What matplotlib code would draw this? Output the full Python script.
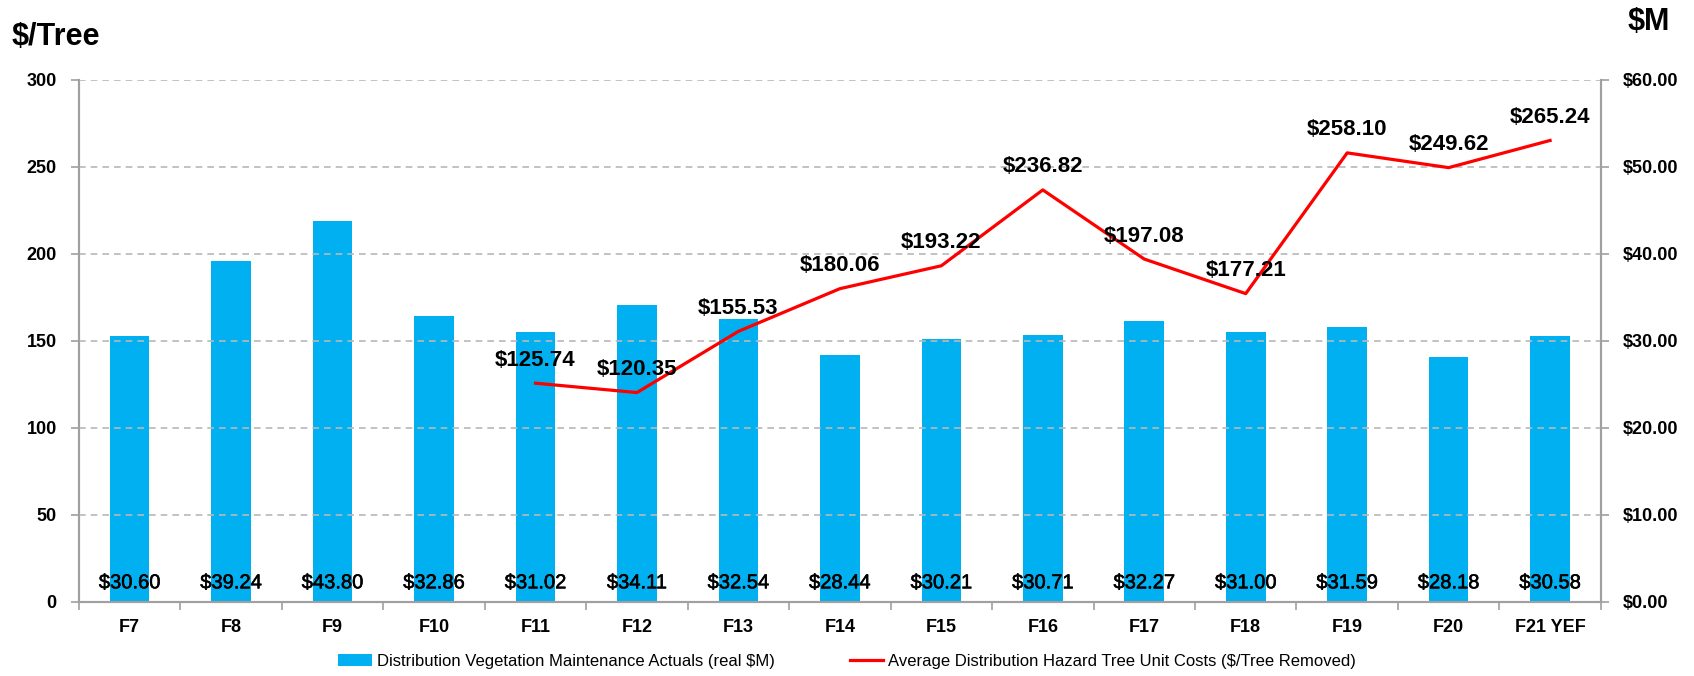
import matplotlib.pyplot as plt
import matplotlib.patheffects as pe
import numpy as np

plt.rcParams['font.family'] = ['Liberation Sans', 'DejaVu Sans']

years = ['F7', 'F8', 'F9', 'F10', 'F11', 'F12', 'F13', 'F14', 'F15', 'F16',
         'F17', 'F18', 'F19', 'F20', 'F21 YEF']
spend = [30.60, 39.24, 43.80, 32.86, 31.02, 34.11, 32.54, 28.44, 30.21, 30.71,
         32.27, 31.00, 31.59, 28.18, 30.58]
unit_years = ['F11', 'F12', 'F13', 'F14', 'F15', 'F16', 'F17', 'F18', 'F19', 'F20', 'F21 YEF']
unit_cost = [125.74, 120.35, 155.53, 180.06, 193.22, 236.82, 197.08, 177.21,
             258.10, 249.62, 265.24]

bar_color = '#00B0F0'
line_color = '#FF0000'
spine_color = '#A0A0A0'

fig = plt.figure(figsize=(16.94, 6.76), dpi=100)
ax = fig.add_axes([0.0466, 0.1095, 0.8984, 0.7722])
ax2 = ax.twinx()

x = np.arange(len(years))
ux = [years.index(y) for y in unit_years]

# bars on the right axis ($M)
bars = ax2.bar(x, spend, width=0.39, color=bar_color, zorder=2,
               label='Distribution Vegetation Maintenance Actuals (real $M)')
for xi, v in zip(x, spend):
    ax2.text(xi, 2.2, f'${v:.2f}', ha='center', va='center', fontsize=14.5, zorder=5,
             path_effects=[pe.withStroke(linewidth=0.4, foreground='black')])

# line on the left axis ($/Tree)
line, = ax.plot(ux, unit_cost, color=line_color, lw=2.3, zorder=4,
                label='Average Distribution Hazard Tree Unit Costs ($/Tree Removed)')
for xi, v in zip(ux, unit_cost):
    ax.annotate(f'${v:.2f}', (xi, v), xytext=(0, 9), textcoords='offset points',
                ha='center', va='bottom', fontsize=16, fontweight='bold', zorder=6)

# line above bars
ax.set_zorder(ax2.get_zorder() + 1)
ax.patch.set_visible(False)

ax.set_xlim(-0.5, len(years) - 0.5)
ax.set_ylim(0, 300)
ax2.set_ylim(0, 60)
ax.set_yticks(np.arange(0, 301, 50))
ax2.set_yticks(np.arange(0, 61, 10))
ax2.set_yticklabels([f'${v:.2f}' for v in np.arange(0, 61, 10)])

ax.set_xticks(x)
ax.set_xticklabels(years)
ax.set_xticks(np.arange(-0.5, len(years), 1), minor=True)
ax.tick_params(axis='x', which='major', length=0, pad=12)
ax.tick_params(axis='x', which='minor', length=6, color=spine_color, width=1.2)
ax.tick_params(axis='y', length=6, color=spine_color, width=1.2, pad=10)
ax2.tick_params(axis='y', length=6, color=spine_color, width=1.2, pad=10)

for a in (ax, ax2):
    for lab in a.get_xticklabels() + a.get_yticklabels():
        lab.set_fontweight('bold')
        lab.set_fontsize(13)
    a.spines['top'].set_visible(False)
    for s in ('left', 'right', 'bottom'):
        a.spines[s].set_color(spine_color)
        a.spines[s].set_linewidth(1.5)

ax.yaxis.grid(True, linestyle=(0, (4, 3)), color='#B8B8B8', lw=1.2)
ax.set_axisbelow(True)
ax2.yaxis.grid(False)

fig.text(0.007, 0.945, '$/Tree', fontsize=22, fontweight='bold', va='center')
fig.text(0.961, 0.968, '$M', fontsize=22, fontweight='bold', va='center')

fig.legend([bars, line], [bars.get_label(), line.get_label()],
           loc='lower center', bbox_to_anchor=(0.5, -0.012), ncol=2, frameon=False,
           fontsize=12, handlelength=2.0, handletextpad=0.3, columnspacing=4.5)

fig.savefig('out.png', dpi=100)
